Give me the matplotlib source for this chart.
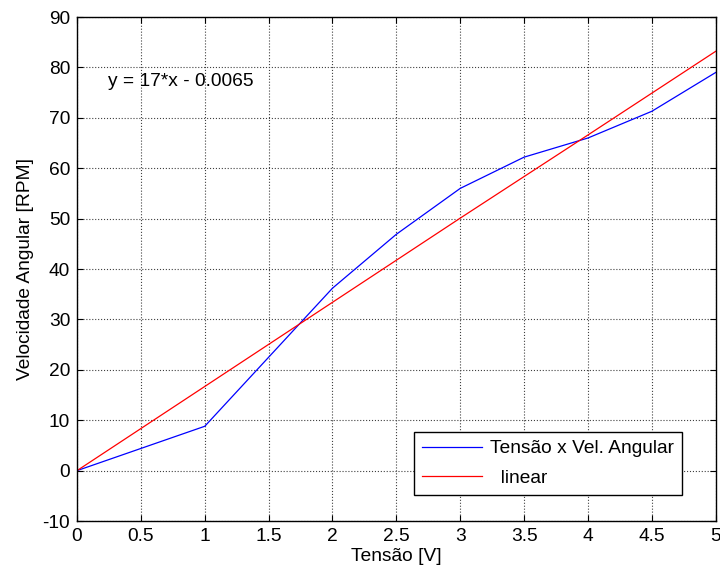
import numpy as np
import matplotlib
matplotlib.use("Agg")
from matplotlib import pyplot as plt

plt.rcParams['font.family'] = ['Liberation Sans', 'DejaVu Sans']
plt.rcParams['axes.unicode_minus'] = False

# measured data (blue)
tensao = [0, 1, 2, 2.5, 3, 3.5, 4, 4.5, 5]
velocidade = [0, 8.8, 36.2, 46.9, 56.0, 62.2, 66.0, 71.3, 79.0]

# linear fit (red)
tensao_fit = [0, 1, 2, 3, 4, 5]
velocidade_fit = [0, 16.7, 33.4, 50.1, 66.6, 83.2]

FS = 13.8

fig = plt.figure(figsize=(7.2, 5.74), dpi=100)
ax = fig.add_axes([0.107, 0.0923, 0.887, 0.878])

ax.plot(tensao, velocidade, color='#0000ff', linewidth=0.9, label='Tensão x Vel. Angular')
ax.plot(tensao_fit, velocidade_fit, color='#ff0000', linewidth=0.9, label='  linear')

ax.set_xlim(0, 5)
ax.set_ylim(-10, 90)
ax.set_xticks(np.arange(0, 5.01, 0.5))
ax.set_xticklabels(['0', '0.5', '1', '1.5', '2', '2.5', '3', '3.5', '4', '4.5', '5'])
ax.set_yticks(np.arange(-10, 91, 10))
ax.grid(True, linestyle=':', color='#404040', linewidth=0.8)
ax.tick_params(direction='in', top=True, right=True, labelsize=FS, length=4, pad=5)
for s in ax.spines.values():
    s.set_linewidth(1.0)

ax.set_xlabel('Tensão [V]', fontsize=FS, labelpad=2)
ax.set_ylabel('Velocidade Angular [RPM]', fontsize=FS, labelpad=6)

ax.text(0.24, 77.3, 'y = 17*x - 0.0065', fontsize=FS, va='center')

leg = ax.legend(loc='lower right', bbox_to_anchor=(0.948, 0.052), borderaxespad=0,
                fontsize=FS, fancybox=False, edgecolor='black', framealpha=1,
                handlelength=3.1, handletextpad=0.45, borderpad=0.42,
                labelspacing=0.62)
leg.get_frame().set_linewidth(1.0)

plt.savefig("out.png", dpi=100)
